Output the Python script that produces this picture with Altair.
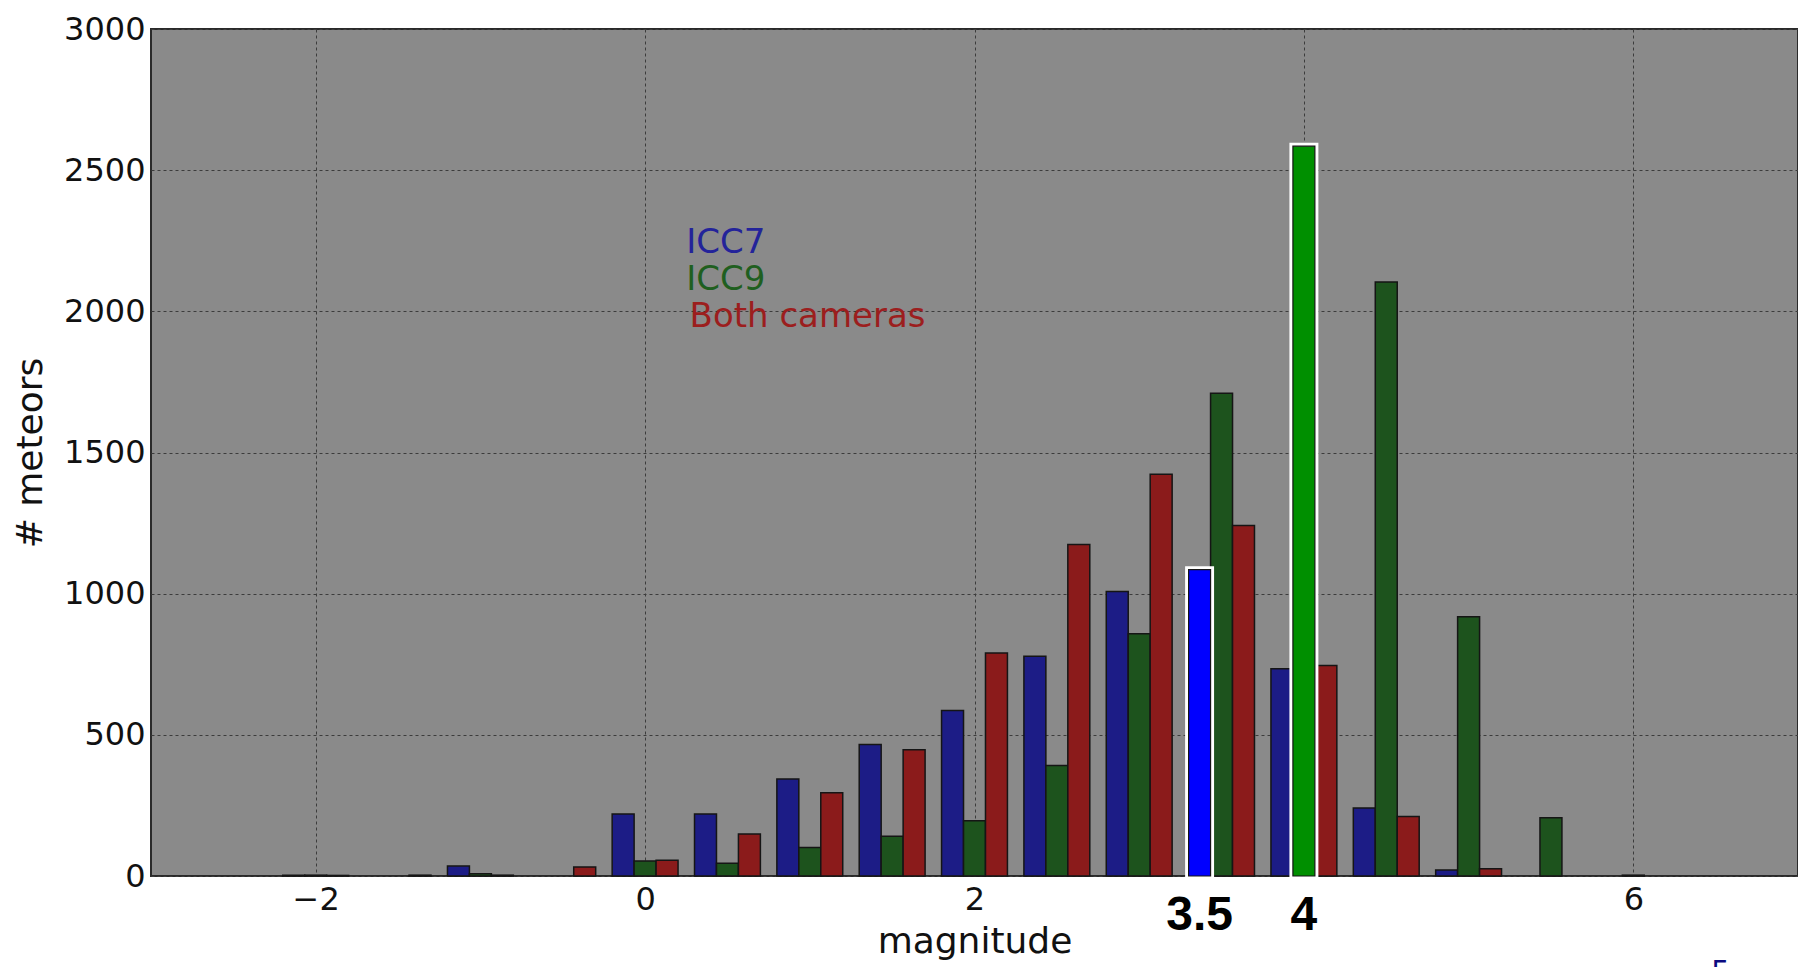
import altair as alt
import pandas as pd

# ---- data ----
bin_centers = [-2.0, -1.5, -1.0, -0.5, 0.0, 0.5, 1.0, 1.5, 2.0, 2.5, 3.0, 3.5, 4.0, 4.5, 5.0, 5.5, 6.0]
icc7 = [3, 0, 35, 0, 220, 220, 344, 466, 586, 778, 1008, 1085, 734, 241, 21, 0, 0]
icc9 = [3, 0, 8, 0, 53, 45, 101, 141, 196, 391, 858, 1710, 2585, 2104, 918, 206, 3]
both = [2, 3, 3, 32, 56, 149, 295, 447, 790, 1174, 1423, 1241, 746, 211, 26, 0, 0]

series_names = ["ICC7", "ICC9", "Both cameras"]
bar_colors = ["#1c1c86", "#1d531d", "#8b1b1b"]
text_colors = ["#23239a", "#1f5f1f", "#9c1e1e"]
highlight = {("ICC7", 3.5): "#0000ff", ("ICC9", 4.0): "#008f00"}

legend_x = [0.25, 0.25, 0.27]
legend_y = [2206, 2075, 1944]

x_ticks = [-2, 0, 2, 4, 6]
y_ticks = [0, 500, 1000, 1500, 2000, 2500, 3000]

group_width = 0.4
# ---- build tables ----
rows = []
for si, (name, vals) in enumerate(zip(series_names, [icc7, icc9, both])):
    w = group_width / 3
    for c, v in zip(bin_centers, vals):
        if v <= 0:
            continue
        x0 = c - group_width / 2 + si * w
        rows.append({
            "series": name, "center": c, "count": v, "base": 0,
            "x0": x0, "x1": x0 + w, "xc": x0 + w / 2,
            "color": highlight.get((name, c), bar_colors[si]),
            "hl": (name, c) in highlight,
        })
bars = pd.DataFrame(rows)
hl = bars[bars["hl"]].copy()
hl["label"] = hl["center"].map(lambda c: "3.5" if c == 3.5 else "4")
hl["ly"] = -190

legend = pd.DataFrame({"label": series_names, "x": legend_x, "y": legend_y, "color": text_colors})

xscale = alt.Scale(domain=[-3, 7], nice=False, zero=False)
yscale = alt.Scale(domain=[0, 3000], nice=False, zero=False)

font = "DejaVu Sans"

base_x = alt.X("x0:Q", scale=xscale,
               axis=alt.Axis(values=x_ticks, title="magnitude", grid=True, ticks=False, domain=False,
                             format="d",
                             labelExpr="datum.value == 4 ? '' : datum.label",
                             labelFontSize=32, labelFont=font, labelColor="#111", labelPadding=8,
                             labelFlush=False, titleFontSize=36, titleFont=font, titleFontWeight="normal",
                             titleColor="#111", titlePadding=9,
                             gridColor="#3c3c3c", gridDash=[3, 3], gridWidth=1, gridOpacity=1))
base_y = alt.Y("count:Q", scale=yscale,
               axis=alt.Axis(values=y_ticks, title="# meteors", grid=True, ticks=False, domain=False,
                             format="d",
                             labelFontSize=32, labelFont=font, labelColor="#111", labelPadding=6,
                             titleFontSize=36, titleFont=font, titleFontWeight="normal",
                             titleColor="#111", titlePadding=14,
                             gridColor="#3c3c3c", gridDash=[3, 3], gridWidth=1, gridOpacity=1))

normal = alt.Chart(bars).mark_bar(stroke="#151515", strokeWidth=1.5).encode(
    x=base_x, x2="x1:Q", y=base_y, y2="base:Q",
    color=alt.Color("color:N", scale=None),
)

hl_border = alt.Chart(hl).mark_bar(stroke="white", strokeWidth=7, fill="white").encode(
    x=alt.X("x0:Q", scale=xscale), x2="x1:Q",
    y=alt.Y("count:Q", scale=yscale), y2="base:Q",
)
hl_bar = alt.Chart(hl).mark_bar(stroke="#151515", strokeWidth=1.2).encode(
    x=alt.X("x0:Q", scale=xscale), x2="x1:Q",
    y=alt.Y("count:Q", scale=yscale), y2="base:Q",
    color=alt.Color("color:N", scale=None),
)

hl_text = alt.Chart(hl).mark_text(font="Liberation Sans", fontWeight="bold", fontSize=48,
                                  baseline="alphabetic", align="center", color="black").encode(
    x=alt.X("xc:Q", scale=xscale), y=alt.Y("ly:Q", scale=yscale), text="label:N",
)

legend_text = alt.Chart(legend).mark_text(font=font, fontSize=34, baseline="alphabetic", align="left").encode(
    x=alt.X("x:Q", scale=xscale), y=alt.Y("y:Q", scale=yscale), text="label:N",
    color=alt.Color("color:N", scale=None),
)

page = pd.DataFrame({"label": ["5"], "x": [6.53], "y": [-290]})
page_text = alt.Chart(page).mark_text(font=font, fontSize=30, baseline="top", align="center",
                                      color="#0a0a80").encode(
    x=alt.X("x:Q", scale=xscale), y=alt.Y("y:Q", scale=yscale), text="label:N",
)

chart = alt.layer(normal, hl_border, hl_bar, hl_text, legend_text, page_text).properties(
    width=1647, height=847,
    autosize=alt.AutoSizeParams(type="none"),
    padding={"left": 151, "top": 29, "right": 0, "bottom": 91},
    background="white",
).configure_view(
    fill="#8a8a8a", stroke="#2a2a2a", strokeWidth=2,
)

chart.save("out.html", embed_options={"renderer": "svg", "actions": False})
